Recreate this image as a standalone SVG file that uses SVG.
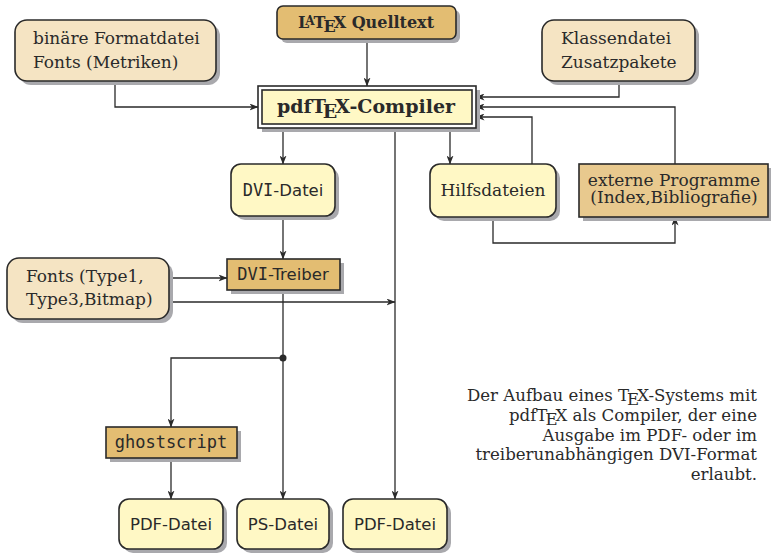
<svg xmlns="http://www.w3.org/2000/svg" width="771" height="554" viewBox="0 0 771 554">
<style>
.bg{fill:#ffffff}
.sh{fill:#a9a9ad}
.b{stroke:#2a2a2a;stroke-width:1.6}
.beige{fill:#f5e4c3}
.yel{fill:#fff8c5}
.org{fill:#e3bd72}
.org2{fill:#e8c98e}
.t{font-family:"DejaVu Serif","Liberation Serif",serif;font-size:17px;fill:#2a2a2a}
.tb{font-family:"DejaVu Serif","Liberation Serif",serif;font-weight:bold;fill:#2a2a2a}
.ts{font-family:"DejaVu Sans","Liberation Sans",sans-serif;font-size:16.5px;fill:#2a2a2a}
.tm{font-family:"DejaVu Sans Mono","Liberation Mono",monospace;font-size:17px;fill:#2a2a2a}
.c{fill:none;stroke:#2a2a2a;stroke-width:1.3}
.m{text-anchor:middle}
</style>
<defs>
<marker id="ar" markerWidth="9" markerHeight="7" refX="8.5" refY="3.5" orient="auto" markerUnits="userSpaceOnUse">
<path d="M0,0 L9,3.5 L0,7 L2.5,3.5 z" fill="#2a2a2a"/>
</marker>
</defs>
<rect class="bg" x="0" y="0" width="771" height="554"/>

<g id="connectors">
<path class="c" d="M367,39 V86" marker-end="url(#ar)"/>
<path class="c" d="M115,81 V107 H258" marker-end="url(#ar)"/>
<path class="c" d="M619,81 V97 H476" marker-end="url(#ar)"/>
<path class="c" d="M675,164 V107 H476" marker-end="url(#ar)"/>
<path class="c" d="M532,164 V117 H476" marker-end="url(#ar)"/>
<path class="c" d="M450,128 V164" marker-end="url(#ar)"/>
<path class="c" d="M283,128 V164" marker-end="url(#ar)"/>
<path class="c" d="M395,128 V499" marker-end="url(#ar)"/>
<path class="c" d="M493,217 V243 H675 V217" marker-end="url(#ar)"/>
<path class="c" d="M283,216 V259" marker-end="url(#ar)"/>
<path class="c" d="M169,278 H227" marker-end="url(#ar)"/>
<path class="c" d="M163,302 H395" marker-end="url(#ar)"/>
<path class="c" d="M283,290 V499" marker-end="url(#ar)"/>
<path class="c" d="M283,358 H171 V427" marker-end="url(#ar)"/>
<path class="c" d="M171,458 V499" marker-end="url(#ar)"/>
<circle cx="283" cy="358" r="3.5" fill="#2a2a2a"/>
</g>

<g id="binaere">
<rect class="sh" x="19" y="24" width="201" height="61" rx="12"/>
<rect class="b beige" x="15" y="20" width="201" height="61" rx="12"/>
<text class="t" x="33" y="44">binäre Formatdatei</text>
<text class="t" x="33" y="68">Fonts (Metriken)</text>
</g>

<g id="latex">
<rect class="sh" x="281" y="10" width="179" height="33" rx="6"/>
<rect class="b org" x="277" y="6" width="179" height="33" rx="6"/>
<text class="tb m" x="366" y="28" font-size="16">L<tspan font-size="12" dx="-4" dy="-3">A</tspan><tspan dx="-1" dy="3">T</tspan><tspan dx="-2" dy="4">E</tspan><tspan dx="-2" dy="-4">X Quelltext</tspan></text>
</g>

<g id="klassen">
<rect class="sh" x="546" y="24" width="153" height="61" rx="12"/>
<rect class="b beige" x="542" y="20" width="153" height="61" rx="12"/>
<text class="t" x="561" y="44">Klassendatei</text>
<text class="t" x="561" y="68">Zusatzpakete</text>
</g>

<g id="pdftex">
<rect class="sh" x="262" y="90" width="218" height="42"/>
<rect class="b" fill="#ffffff" x="258" y="86" width="218" height="42"/>
<rect class="b yel" x="262" y="90" width="210" height="34"/>
<text class="tb m" x="366" y="113" font-size="19">pdfT<tspan dx="-3" dy="5">E</tspan><tspan dx="-2" dy="-5">X-Compiler</tspan></text>
</g>

<g id="dvidatei">
<rect class="sh" x="235" y="168" width="104" height="52" rx="10"/>
<rect class="b yel" x="231" y="164" width="104" height="52" rx="10"/>
<text class="ts m" x="283" y="196"><tspan class="tm">DVI</tspan>-Datei</text>
</g>

<g id="hilfs">
<rect class="sh" x="434" y="168" width="126" height="53" rx="10"/>
<rect class="b yel" x="430" y="164" width="126" height="53" rx="10"/>
<text class="t m" x="493" y="196">Hilfsdateien</text>
</g>

<g id="extern">
<rect class="sh" x="583" y="168" width="189" height="53"/>
<rect class="b org2" x="579" y="164" width="189" height="53"/>
<text class="t m" x="674" y="186" font-size="14.2">externe Programme</text>
<text class="t m" x="674" y="203" font-size="14.2">(Index,Bibliografie)</text>
</g>

<g id="fonts">
<rect class="sh" x="11" y="262" width="162" height="61" rx="12"/>
<rect class="b beige" x="7" y="258" width="162" height="61" rx="12"/>
<text class="t" x="26" y="282">Fonts (Type1,</text>
<text class="t" x="26" y="305">Type3,Bitmap)</text>
</g>

<g id="dvitreiber">
<rect class="sh" x="231" y="263" width="113" height="31"/>
<rect class="b org" x="227" y="259" width="113" height="31"/>
<text class="ts m" x="283" y="280"><tspan class="tm">DVI</tspan>-Treiber</text>
</g>

<g id="ghostscript">
<rect class="sh" x="110" y="431" width="131" height="31"/>
<rect class="b org" x="106" y="427" width="131" height="31"/>
<text class="tm m" x="171" y="448" font-size="17.5">ghostscript</text>
</g>

<g id="pdf1">
<rect class="sh" x="123" y="503" width="104" height="50" rx="10"/>
<rect class="b yel" x="119" y="499" width="104" height="50" rx="10"/>
<text class="ts m" x="171" y="530">PDF-Datei</text>
</g>

<g id="ps">
<rect class="sh" x="241" y="503" width="92" height="50" rx="10"/>
<rect class="b yel" x="237" y="499" width="92" height="50" rx="10"/>
<text class="ts m" x="283" y="530">PS-Datei</text>
</g>

<g id="pdf2">
<rect class="sh" x="347" y="503" width="104" height="50" rx="10"/>
<rect class="b yel" x="343" y="499" width="104" height="50" rx="10"/>
<text class="ts m" x="395" y="530">PDF-Datei</text>
</g>

<g id="caption" class="t" text-anchor="end" font-size="16.6">
<text x="757" y="401" font-size="16.6">Der Aufbau eines T<tspan dx="-2" dy="4">E</tspan><tspan dx="-2" dy="-4">X-Systems mit</tspan></text>
<text x="757" y="421" font-size="16.6">pdfT<tspan dx="-2" dy="4">E</tspan><tspan dx="-2" dy="-4">X als Compiler, der eine</tspan></text>
<text x="757" y="441" font-size="16.6">Ausgabe im PDF- oder im</text>
<text x="757" y="460" font-size="16.6">treiberunabhängigen DVI-Format</text>
<text x="757" y="480" font-size="16.6">erlaubt.</text>
</g>
</svg>
